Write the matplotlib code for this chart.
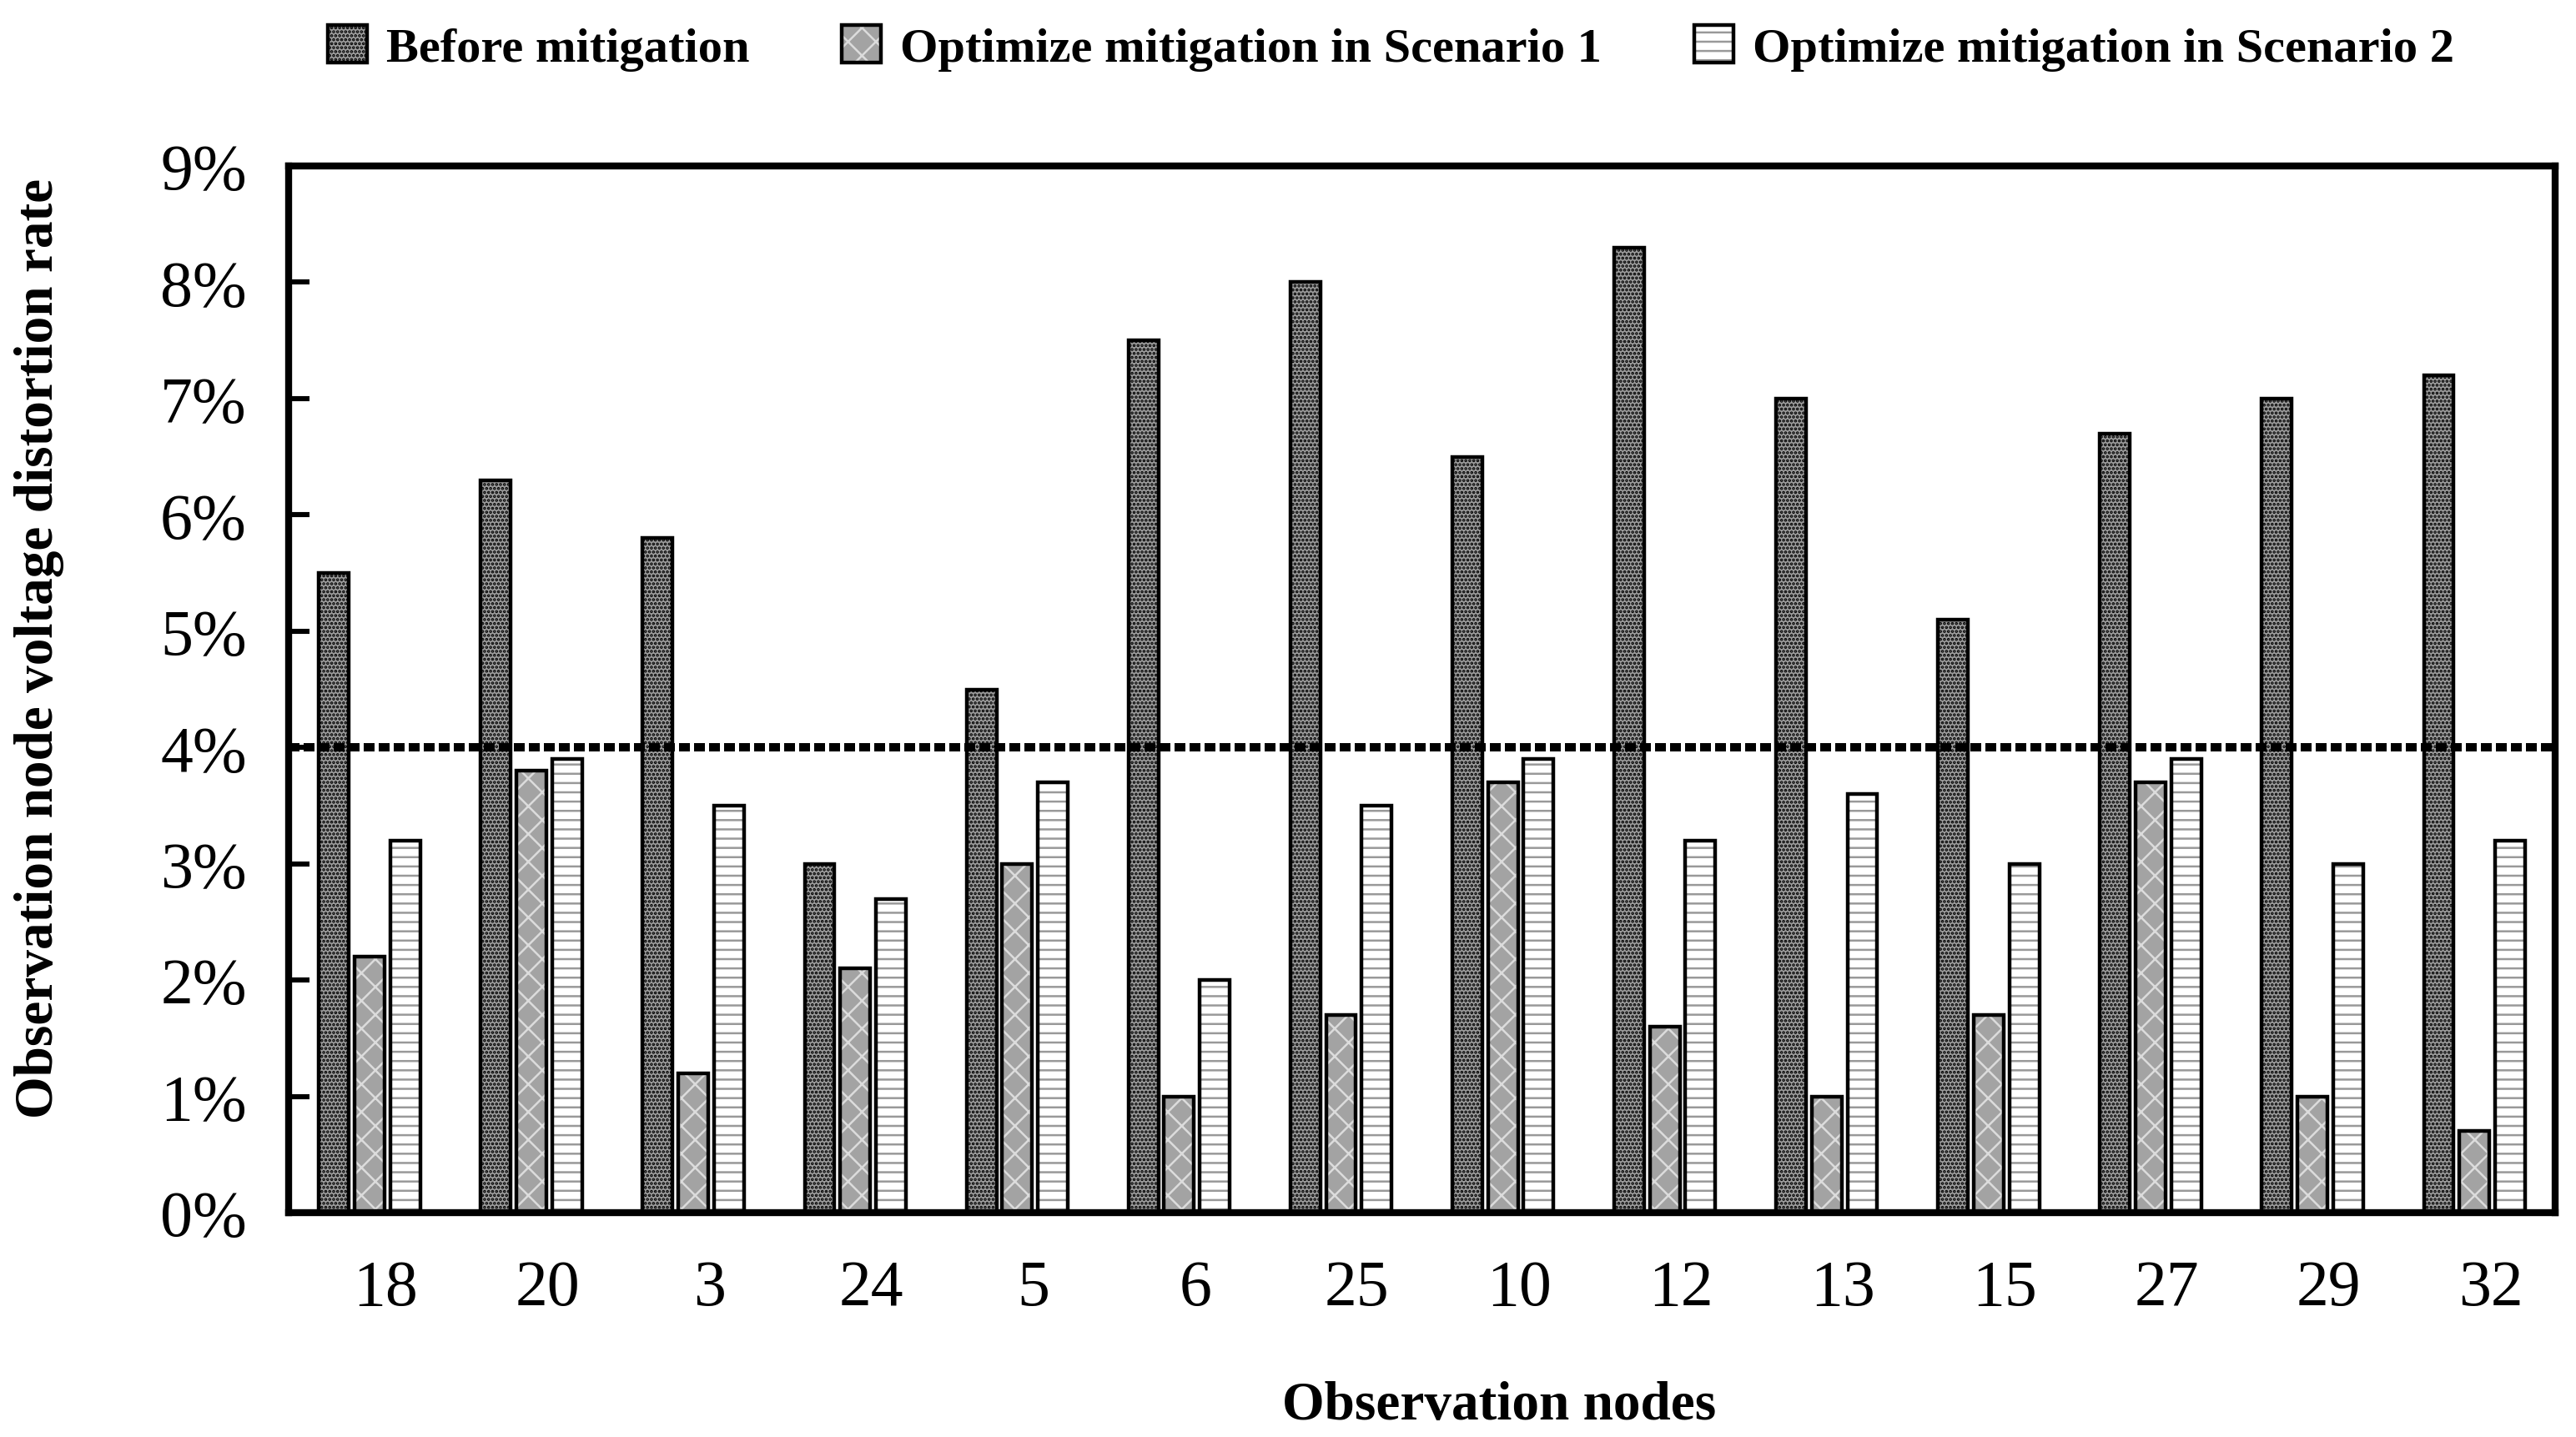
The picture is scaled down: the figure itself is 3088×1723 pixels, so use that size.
import numpy as np
import matplotlib
matplotlib.use('Agg')
from matplotlib import pyplot as plt

# Data
nodes = ['18', '20', '3', '24', '5', '6', '25', '10', '12', '13', '15', '27', '29', '32']
before = [5.5, 6.3, 5.8, 3.0, 4.5, 7.5, 8.0, 6.5, 8.3, 7.0, 5.1, 6.7, 7.0, 7.2]
scenario_1 = [2.2, 3.8, 1.2, 2.1, 3.0, 1.0, 1.7, 3.7, 1.6, 1.0, 1.7, 3.7, 1.0, 0.7]
scenario_2 = [3.2, 3.9, 3.5, 2.7, 3.7, 2.0, 3.5, 3.9, 3.2, 3.6, 3.0, 3.9, 3.0, 3.2]
limit = 4.0
labels = ['Before mitigation', 'Optimize mitigation in Scenario 1', 'Optimize mitigation in Scenario 2']

plt.rcParams['font.family'] = ['Liberation Serif', 'DejaVu Serif']
plt.rcParams['hatch.linewidth'] = 0.9

fig = plt.figure(figsize=(15.44, 8.62), dpi=200)
ax = fig.add_axes([0.112, 0.156, 0.880, 0.728])

x = np.arange(len(nodes))
width = 0.185
step = 0.22

# before: dark dotted fill
b0 = ax.bar(x - step, before, width, color='#9c9c9c', edgecolor='black', hatch='.......', linewidth=0)
b0o = ax.bar(x - step, before, width, fill=False, edgecolor='black', linewidth=1.6)
# scenario 1: grey with white lattice
b1 = ax.bar(x, scenario_1, width, color='#a3a3a3', edgecolor='#dcdcdc', hatch='xx', linewidth=0)
b1o = ax.bar(x, scenario_1, width, fill=False, edgecolor='black', linewidth=1.6)
# scenario 2: white with grey horizontal lines
b2 = ax.bar(x + step, scenario_2, width, color='white', edgecolor='#999999', hatch='---', linewidth=0)
b2o = ax.bar(x + step, scenario_2, width, fill=False, edgecolor='black', linewidth=1.6)

ax.axhline(limit, color='black', linewidth=3.6, linestyle=(0, (1.3, 0.5)))

# Axes formatting
ax.set_xlim(-0.5, len(nodes) - 0.5)
ax.set_ylim(0, 9)
ax.set_yticks(range(0, 10))
ax.set_yticklabels([f'{v}%' for v in range(0, 10)])
ax.set_xticks(x + 0.1)
ax.set_xticklabels(nodes)
ax.tick_params(axis='y', direction='in', length=9, width=2.2, labelsize=28, pad=18)
ax.tick_params(axis='x', length=0, labelsize=28, pad=20)
for spine in ax.spines.values():
    spine.set_linewidth(3)

ax.set_xlabel('Observation nodes', fontsize=23.5, fontweight='bold')
ax.xaxis.set_label_coords(0.534, -0.16)
ax.set_ylabel('Observation node voltage distortion rate', fontsize=23.5, fontweight='bold')
ax.yaxis.set_label_coords(-0.099, 0.54)

fig.legend([(b0, b0o), (b1, b1o), (b2, b2o)], labels, loc='center', bbox_to_anchor=(0.54, 0.966),
           ncol=3, frameon=False, prop={'weight': 'bold', 'size': 21},
           handlelength=0.8, handleheight=0.8, handletextpad=0.4, columnspacing=1.9)

fig.savefig('out.png', dpi=200)
